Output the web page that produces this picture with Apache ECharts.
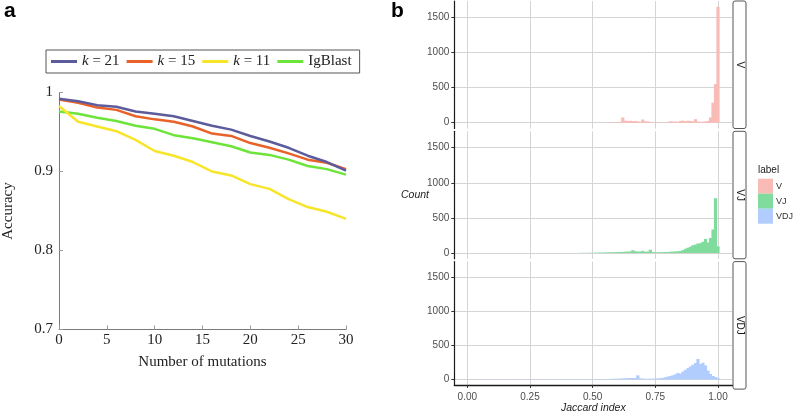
<!DOCTYPE html>
<html><head><meta charset="utf-8">
<script src="https://cdn.jsdelivr.net/npm/echarts@6/dist/echarts.min.js"></script>
<style>html,body{margin:0;padding:0;background:#fff}#c{width:795px;height:415px}</style>
</head><body><div id="c"></div>
<script>
// ---------- Panel a data ----------
const mutations = [0,2,4,6,8,10,12,14,16,18,20,22,24,26,28,30];
const k21     = [0.992,0.989,0.984,0.982,0.976,0.973,0.970,0.964,0.958,0.953,0.945,0.938,0.930,0.920,0.912,0.901];
const k15     = [0.991,0.987,0.981,0.978,0.970,0.966,0.963,0.957,0.948,0.945,0.936,0.930,0.923,0.915,0.911,0.903];
const k11     = [0.983,0.963,0.957,0.951,0.940,0.926,0.920,0.912,0.900,0.895,0.884,0.878,0.865,0.855,0.849,0.840];
const igblast = [0.976,0.973,0.968,0.964,0.958,0.954,0.946,0.942,0.937,0.932,0.924,0.921,0.915,0.907,0.903,0.896];
const lineNames = ['k = 21','k = 15','k = 11','IgBlast'];

// ---------- Panel b data (histogram bins of width 0.01, centers 0.00 .. 1.00) ----------
const binWidth = 0.01;
const binCenters = Array.from({length:101}, (_, i) => +(i * binWidth).toFixed(2));
const countsV = [
  0,0,0,0,0,0,0,0,0,0, 0,0,0,0,0,0,0,0,0,0, 0,0,0,0,0,0,0,0,0,0,
  0,0,0,0,0,0,0,0,0,0, 0,0,0,0,0,0,0,0,0,0, 0,0,0,0,0,
  3,3,5,5,8,10,12,75,30,25,28,22,25,18,15,45,20,18,8,5,4,3,3,4,5,6,
  20,18,15,12,25,30,22,28,25,20,50,15,12,15,18,25,75,285,550,1650];
const countsVJ = [
  0,0,0,0,0,0,0,0,0,0, 0,0,0,0,0,0,0,0,0,0, 0,0,0,0,0,0,0,0,0,0,
  0,0,0,0,0,0,0,0,0,0, 0,0,0,0,0,2,2,2,3,3,
  3,4,5,6,8,8,10,10,12,12,14,15,15,18,20,22,40,25,20,22,30,18,20,48,12,
  10,10,12,12,14,15,18,20,22,25,30,40,60,75,90,110,120,135,140,160,200,150,215,335,780,95];
const countsVDJ = [
  0,2,2,2,2,2,2,2,2,2, 2,2,2,2,2,2,2,2,2,2, 2,2,2,2,2,2,2,2,2,2,
  2,2,2,2,2,3,3,3,3,3, 3,3,3,3,3,3,3,3,4,4, 4,4,4,4,4,
  5,6,8,8,10,10,12,14,15,18,20,22,18,60,15,12,8,8,10,10,
  12,14,18,22,30,40,50,60,75,95,85,115,140,165,190,215,240,300,225,245,205,130,80,50,35,20];
const facetLabels = ['V','VJ','VDJ'];
const facetColors = ['#f9bbb6','#80dc9c','#b0cdfe'];
const countTicks = [0,500,1000,1500];
const jaccardTicks = [0,0.25,0.5,0.75,1];

// ---------- styling ----------
const serif = "'Liberation Serif','DejaVu Serif',serif";
const sans = "'Liberation Sans','Helvetica',Arial,sans-serif";
const lineColors = ['#5c5c9c','#e8622a','#f7e52a','#6de43a'];

const facetTop = [1, 131.3, 261.6];
const facetH = 127.5;
const facetLeft = 454.3, facetW = 278;

const grids = [{left:59, top:92.5, width:287, height:237}];
facetTop.forEach(t => grids.push({left:facetLeft, top:t, width:facetW, height:facetH}));

const xAxes = [{
  type:'value', gridIndex:0, min:0, max:30, interval:5,
  axisLine:{lineStyle:{color:'#7a7a7a', width:1}},
  axisTick:{inside:true, length:4, lineStyle:{color:'#999'}},
  axisLabel:{fontFamily:serif, fontSize:15, color:'#222', margin:3},
  splitLine:{show:false},
  name:'Number of mutations', nameLocation:'middle', nameGap:25,
  nameTextStyle:{fontFamily:serif, fontSize:15, color:'#222'}
}];
const yAxes = [{
  type:'value', gridIndex:0, min:0.7, max:1, interval:0.1,
  axisLine:{show:true, lineStyle:{color:'#7a7a7a', width:1}},
  axisTick:{show:true, inside:true, length:4, lineStyle:{color:'#999'}},
  axisLabel:{fontFamily:serif, fontSize:15, color:'#222', margin:6,
    formatter: v => Math.abs(v-1) < 1e-9 ? '1' : v.toFixed(1)},
  splitLine:{show:false},
  name:'Accuracy', nameLocation:'middle', nameGap:43,
  nameTextStyle:{fontFamily:serif, fontSize:15, color:'#222'}
}];
facetTop.forEach((t, i) => {
  const last = i === facetTop.length - 1;
  xAxes.push({
    type:'value', gridIndex:i+1, min:-0.052, max:1.057,
    axisLine:{show:last, onZero:false, lineStyle:{color:'#1a1a1a', width:1.3}},
    axisTick:{show:last, length:3, customValues:jaccardTicks, lineStyle:{color:'#333'}},
    axisLabel:{show:last, customValues:jaccardTicks, formatter: v => v.toFixed(2),
      fontFamily:sans, fontSize:10, color:'#4d4d4d', margin:7},
    splitLine:{show:true, lineStyle:{color:'#d4d4d4', width:1}},
    name: last ? 'Jaccard index' : '', nameLocation:'middle', nameGap:18,
    nameTextStyle:{fontFamily:sans, fontSize:10.5, fontStyle:'italic', color:'#222'}
  });
  yAxes.push({
    type:'value', gridIndex:i+1, min:-82.5, max:1732.5,
    axisLine:{show:true, onZero:false, lineStyle:{color:'#1a1a1a', width:1.2}},
    axisTick:{show:true, length:3, customValues:countTicks, lineStyle:{color:'#333'}},
    axisLabel:{customValues:countTicks, formatter: v => String(Math.round(v)),
      fontFamily:sans, fontSize:10, color:'#4d4d4d', margin:5},
    splitLine:{show:true, lineStyle:{color:'#d4d4d4', width:1}}
  });
});

const series = [k21, k15, k11, igblast].map((vals, i) => ({
  type:'line', name:lineNames[i], xAxisIndex:0, yAxisIndex:0,
  data: mutations.map((m, j) => [m, vals[j]]),
  showSymbol:false, symbol:'none',
  lineStyle:{width:2.5, color:lineColors[i]}, itemStyle:{color:lineColors[i]},
  z: 10 - i
}));
[countsV, countsVJ, countsVDJ].forEach((counts, i) => {
  series.push({
    type:'custom', name:facetLabels[i], xAxisIndex:i+1, yAxisIndex:i+1,
    itemStyle:{color:facetColors[i]},
    data: binCenters.map((b, j) => [b, counts[j]]),
    renderItem: (params, api) => {
      const x = api.value(0), y = api.value(1);
      if (!y) return null;
      const p0 = api.coord([x - binWidth/2, y]);
      const p1 = api.coord([x + binWidth/2, 0]);
      return {type:'rect',
        shape:{x:p0[0] - 0.35, y:p0[1], width:p1[0]-p0[0] + 0.7, height:p1[1]-p0[1]},
        style:{fill:api.visual('color')}};
    }
  });
});

const graphics = [
  {type:'text', left:4, top:1, style:{text:'a', font:"bold 21px 'Liberation Sans', Arial, sans-serif", fill:'#000'}},
  {type:'text', left:391, top:1, style:{text:'b', font:"bold 21px 'Liberation Sans', Arial, sans-serif", fill:'#000'}},
  {type:'text', left:401, top:190, style:{text:'Count', font:"italic 10.5px 'Liberation Sans', Arial, sans-serif", fill:'#222'}},
  {type:'text', left:758, top:165, style:{text:'label', font:"10px 'Liberation Sans', Arial, sans-serif", fill:'#222'}}
];
facetTop.forEach((t, i) => {
  graphics.push({type:'rect', shape:{x:733, y:t, width:13, height:facetH, r:2},
    style:{fill:'#fff', stroke:'#555', lineWidth:1}});
  graphics.push({type:'text', x:739.5, y:t + facetH/2, rotation:-Math.PI/2,
    style:{text:facetLabels[i], font:"10px 'Liberation Sans', Arial, sans-serif", fill:'#1a1a1a',
      align:'center', verticalAlign:'middle'}});
});

const chart = echarts.init(document.getElementById('c'), null, {renderer:'canvas'});
chart.setOption({
  animation:false,
  backgroundColor:'#fff',
  grid: grids,
  xAxis: xAxes,
  yAxis: yAxes,
  legend: [{
    data: lineNames, left:46, top:50, orient:'horizontal',
    padding:[4,8,4,5], borderColor:'#555', borderWidth:1,
    itemGap:7, itemWidth:26, itemHeight:3, icon:'rect',
    textStyle:{fontFamily:serif, fontSize:15, color:'#222',
      rich:{k:{fontFamily:serif, fontSize:15, fontStyle:'italic', color:'#222'},
            t:{fontFamily:serif, fontSize:15, color:'#222'}}},
    formatter: n => n.startsWith('k') ? '{k|k}{t|' + n.slice(1) + '}' : n
  }, {
    data: facetLabels, left:758, top:178.7, orient:'vertical',
    padding:0, itemGap:0, itemWidth:15, itemHeight:15, icon:'rect',
    textStyle:{fontFamily:sans, fontSize:9, color:'#333', padding:[0,0,0,-2]}
  }],
  graphic: graphics,
  series: series
});
</script>
</body></html>
